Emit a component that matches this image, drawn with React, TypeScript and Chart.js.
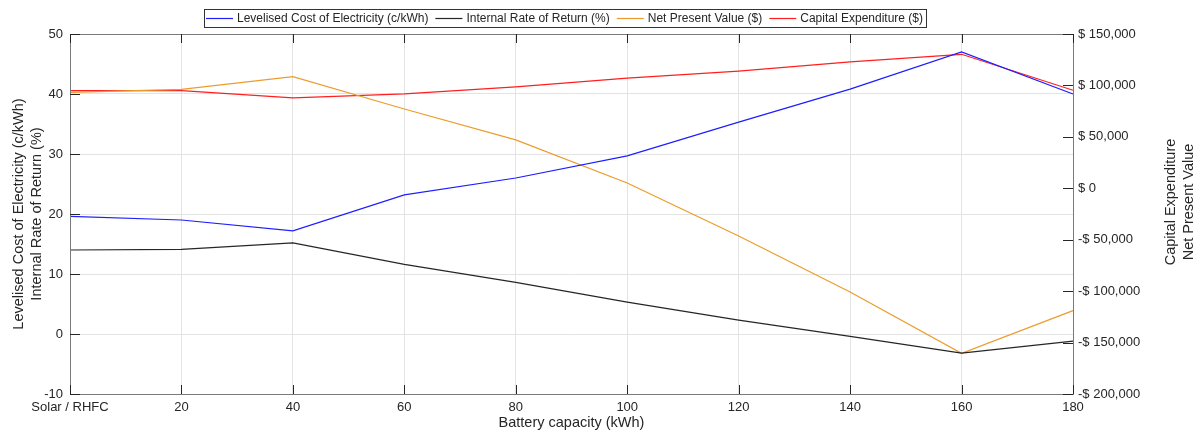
import React, { useEffect, useRef } from "react";
import { Chart, registerables } from "chart.js";

Chart.register(...registerables);

const categories = ["Solar / RHFC", "20", "40", "60", "80", "100", "120", "140", "160", "180"];
const lcoe = [19.6, 19.0, 17.2, 23.2, 26.0, 29.7, 35.3, 40.8, 47.0, 40.0];
const irr = [14.0, 14.1, 15.2, 11.6, 8.6, 5.3, 2.3, -0.4, -3.2, -1.2];
const npv = [93300, 96200, 108500, 77100, 47000, 5100, -46400, -100800, -160400, -119000];
const capex = [94900, 95000, 87800, 91700, 98500, 107200, 114000, 122800, 130300, 95300];

const leftTicks = [-10, 0, 10, 20, 30, 40, 50];
const rightTicks = [-200000, -150000, -100000, -50000, 0, 50000, 100000, 150000];

const seriesNames = [
  "Levelised Cost of Electricity (c/kWh)",
  "Internal Rate of Return (%)",
  "Net Present Value ($)",
  "Capital Expenditure ($)",
];
const seriesColors = ["#1f1fff", "#262626", "#EC9C2C", "#ff1f1f"];

const FONT = "'Liberation Sans', Arial, sans-serif";

function fmtMoney(v: number) {
  const s = Math.abs(v).toLocaleString("en-US");
  return v < 0 ? "-$ " + s : "$ " + s;
}

const decorPlugin = {
  id: "decor",
  afterDraw(chart: any) {
    const { ctx, chartArea } = chart;
    const { left, right, top, bottom } = chartArea;
    const xs = chart.scales.x;
    const yl = chart.scales.y;
    const yr = chart.scales.y1;
    ctx.save();
    // box
    ctx.strokeStyle = "#7a7a7a";
    ctx.lineWidth = 1;
    ctx.strokeRect(Math.round(left) + 0.5, Math.round(top) + 0.5, Math.round(right - left), Math.round(bottom - top));
    // inward ticks
    ctx.strokeStyle = "#262626";
    ctx.beginPath();
    const tl = 10;
    leftTicks.forEach((v) => {
      const y = Math.round(yl.getPixelForValue(v)) + 0.5;
      ctx.moveTo(left, y);
      ctx.lineTo(left + tl, y);
    });
    rightTicks.forEach((v) => {
      const y = Math.round(yr.getPixelForValue(v)) + 0.5;
      ctx.moveTo(right, y);
      ctx.lineTo(right - tl, y);
    });
    categories.forEach((_, i) => {
      const x = Math.round(xs.getPixelForValue(i)) + 0.5;
      ctx.moveTo(x, bottom);
      ctx.lineTo(x, bottom - 9);
      ctx.moveTo(x, top);
      ctx.lineTo(x, top + 9);
    });
    ctx.stroke();

    // titles
    ctx.fillStyle = "#262626";
    ctx.font = "14.5px " + FONT;
    ctx.textAlign = "center";
    ctx.textBaseline = "middle";
    const midL = (top + bottom) / 2;
    const vtext = (t: string, x: number, y: number) => {
      ctx.save();
      ctx.translate(x, y);
      ctx.rotate(-Math.PI / 2);
      ctx.fillText(t, 0, 0);
      ctx.restore();
    };
    vtext("Levelised Cost of Electricity (c/kWh)", 19, midL);
    vtext("Internal Rate of Return (%)", 37, midL);
    vtext("Capital Expenditure", 1171, 202);
    vtext("Net Present Value", 1189, 202);
    ctx.fillText("Battery capacity (kWh)", (left + right) / 2, 423);

    // legend
    ctx.font = "12px " + FONT;
    ctx.textAlign = "left";
    const lineLen = 27;
    const gap1 = 4;
    const gap2 = 7;
    const padL = 2;
    const padR = 3;
    const widths = seriesNames.map((n) => ctx.measureText(n).width);
    const total = padL + padR + widths.reduce((a, w) => a + lineLen + gap1 + w, 0) + gap2 * (seriesNames.length - 1);
    const cx = 565;
    const bx = Math.round(cx - total / 2);
    const by = 9;
    const bh = 18;
    ctx.fillStyle = "#ffffff";
    ctx.fillRect(bx, by, total, bh);
    ctx.strokeStyle = "#333333";
    ctx.lineWidth = 1;
    ctx.strokeRect(bx + 0.5, by + 0.5, Math.round(total), bh);
    let x = bx + padL;
    const ly = by + bh / 2 + 0.5;
    seriesNames.forEach((n, i) => {
      ctx.strokeStyle = seriesColors[i];
      ctx.lineWidth = 1.2;
      ctx.beginPath();
      ctx.moveTo(x, ly);
      ctx.lineTo(x + lineLen, ly);
      ctx.stroke();
      x += lineLen + gap1;
      ctx.fillStyle = "#262626";
      ctx.fillText(n, x, ly);
      x += widths[i] + gap2;
    });
    ctx.restore();
  },
};

export default function App() {
  const ref = useRef<HTMLCanvasElement | null>(null);
  useEffect(() => {
    if (!ref.current) return;
    Chart.defaults.font.family = FONT;
    const mk = (i: number, data: number[], axis: string) => ({
      label: seriesNames[i],
      data,
      yAxisID: axis,
      borderColor: seriesColors[i],
      backgroundColor: seriesColors[i],
      borderWidth: 1.25,
      pointRadius: 0,
      tension: 0,
      fill: false,
    });
    const chart = new Chart(ref.current, {
      type: "line",
      data: {
        labels: categories,
        datasets: [mk(0, lcoe, "y"), mk(1, irr, "y"), mk(2, npv, "y1"), mk(3, capex, "y1")],
      },
      options: {
        animation: false,
        responsive: true,
        maintainAspectRatio: false,
        layout: { padding: { top: 34, left: 0, right: 0, bottom: 0 } },
        plugins: { legend: { display: false }, tooltip: { enabled: false } },
        scales: {
          x: {
            type: "category",
            offset: false,
            grid: { color: "#e3e3e3", drawTicks: false },
            border: { display: false },
            ticks: { color: "#262626", font: { size: 13 }, padding: 6, maxRotation: 0, autoSkip: false },
            afterFit: (s: any) => {
              s.height = 41;
            },
          },
          y: {
            position: "left",
            min: -10,
            max: 50,
            grid: { color: "#e3e3e3", drawTicks: false },
            border: { display: false },
            ticks: { stepSize: 10, color: "#262626", font: { size: 13 }, padding: 7 },
            afterFit: (s: any) => {
              s.width = 70;
            },
          },
          y1: {
            position: "right",
            min: -200000,
            max: 150000,
            grid: { display: false, drawTicks: false },
            border: { display: false },
            ticks: {
              stepSize: 50000,
              color: "#262626",
              font: { size: 13 },
              padding: 5,
              callback: (v: any) => fmtMoney(Number(v)),
            },
            afterFit: (s: any) => {
              s.width = 129;
            },
          },
        },
      },
      plugins: [decorPlugin],
    });
    return () => chart.destroy();
  }, []);
  return (
    <div style={{ position: "fixed", left: 0, top: 0, width: 1202, height: 435, background: "#fff" }}>
      <canvas ref={ref} />
    </div>
  );
}
